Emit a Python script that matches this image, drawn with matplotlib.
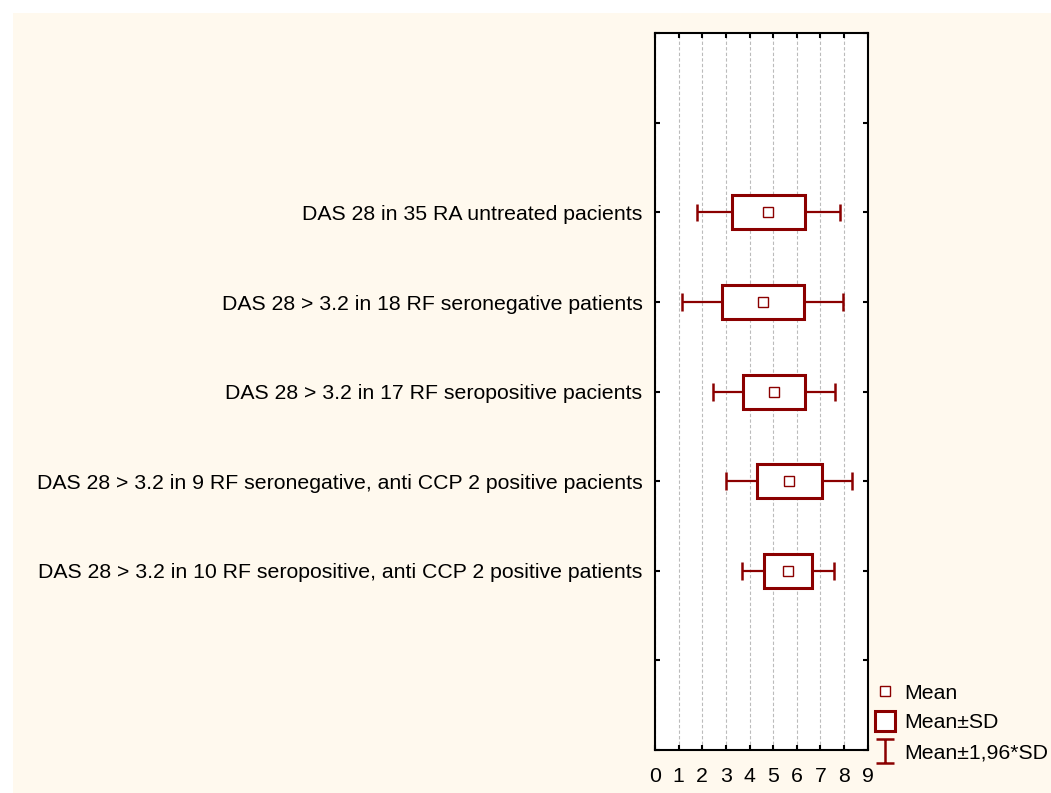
import numpy as np
import matplotlib
matplotlib.use("Agg")
import matplotlib.pyplot as plt
from matplotlib.patches import Rectangle
from matplotlib.lines import Line2D
from matplotlib.path import Path

plt.rcParams['font.family'] = ['Liberation Sans', 'DejaVu Sans']

labels = ["DAS 28 in 35 RA untreated pacients",
          "DAS 28 > 3.2 in 18 RF seronegative patients",
          "DAS 28 > 3.2 in 17 RF seropositive pacients",
          "DAS 28 > 3.2 in 9 RF seronegative, anti CCP 2 positive pacients",
          "DAS 28 > 3.2 in 10 RF seropositive, anti CCP 2 positive patients"]
means = [4.80, 4.56, 5.03, 5.69, 5.63]
sds = [1.55, 1.74, 1.31, 1.36, 1.00]
positions = [1, 2, 3, 4, 5]

red = '#8B0000'
W, H = 1051, 793
fs = 15.3

fig = plt.figure(figsize=(W / 100, H / 100), dpi=100)
fig.patch.set_facecolor('white')
fig.add_artist(Rectangle((13 / W, 0), 1, 1 - 13 / H, transform=fig.transFigure,
                         facecolor='#FFF9EE', edgecolor='none', zorder=-10))

ax = fig.add_axes([655 / W, (H - 750) / H, 212.7 / W, 716.7 / H])
ax.set_facecolor('white')

for y, m, s in zip(positions, means, sds):
    lo, hi = m - 1.96 * s, m + 1.96 * s
    ax.hlines(y, lo, m - s, color=red, lw=1.6, zorder=3)
    ax.hlines(y, m + s, hi, color=red, lw=1.6, zorder=3)
    ax.vlines([lo, hi], y - 0.1, y + 0.1, color=red, lw=1.8, zorder=3)
    ax.add_patch(Rectangle((m - s, y - 0.19), 2 * s, 0.38, facecolor='white',
                           edgecolor=red, lw=2.2, zorder=4))
    ax.plot(m, y, marker='s', ms=7.5, mfc='white', mec=red, mew=1.0, zorder=5)

ax.set_xlim(0, 9)
ax.set_ylim(7, -1)
ax.set_xticks(range(0, 10))
ax.set_yticks(range(-1, 8))
ax.set_yticklabels(['' if t not in positions else labels[t - 1] for t in range(-1, 8)])
ax.grid(axis='x', color='#BBBBBB', lw=0.8, ls=(0, (3, 2)))
ax.set_axisbelow(True)
for sp in ax.spines.values():
    sp.set_linewidth(1.5)
ax.tick_params(direction='in', length=3.5, width=1.5, top=True, right=True,
               labelsize=fs, colors='black')
ax.tick_params(axis='y', pad=9)
ax.tick_params(axis='x', pad=12)

ibeam = Path([(-0.75, 1), (0.75, 1), (0, 1), (0, -1), (-0.75, -1), (0.75, -1)],
             [Path.MOVETO, Path.LINETO, Path.MOVETO, Path.LINETO, Path.MOVETO, Path.LINETO])
handles = [
    Line2D([], [], ls='none', marker='s', ms=7, mfc='white', mec=red, mew=1.0),
    Line2D([], [], ls='none', marker='s', ms=14, mfc='white', mec=red, mew=2.2),
    Line2D([], [], ls='none', marker=ibeam, ms=17, mec=red, mew=1.8),
]
fig.legend(handles, ["Mean", "Mean\u00b1SD", "Mean\u00b11,96*SD"], loc='center left',
           bbox_to_anchor=(873 / W, (H - 723) / H), frameon=False, fontsize=fs,
           handlelength=1.15, handletextpad=0.3, labelspacing=0.5,
           borderpad=0, borderaxespad=0)

fig.savefig('out.png', dpi=100, facecolor=fig.get_facecolor())
